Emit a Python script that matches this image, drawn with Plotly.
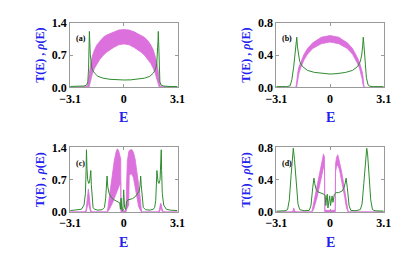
import plotly.graph_objects as go

W, H = 417, 259

# ---------------- data ----------------
# Panel (a)
aE_T = [-3.1, -2.1, -2.05, -2.0, -1.95, -1.9, -1.8, -1.7, -1.55, -1.4, -1.2, -1.0, -0.6, -0.3, 0.0,
        0.3, 0.6, 1.0, 1.2, 1.4, 1.55, 1.7, 1.8, 1.9, 1.95, 2.0, 2.05, 2.1, 3.1]
aT_up = [0, 0.02, 0.15, 0.3, 0.44, 0.55, 0.7, 0.81, 0.92, 1.0, 1.08, 1.13, 1.2, 1.24, 1.25,
         1.24, 1.2, 1.13, 1.08, 1.0, 0.92, 0.81, 0.7, 0.55, 0.44, 0.3, 0.15, 0.02, 0]
aT_lo = [0, 0, 0, 0.02, 0.1, 0.18, 0.32, 0.41, 0.52, 0.6, 0.69, 0.76, 0.86, 0.92, 0.94,
         0.92, 0.86, 0.76, 0.69, 0.6, 0.52, 0.41, 0.32, 0.18, 0.1, 0.02, 0, 0, 0]
aE_r = [-3.1, -2.6, -2.3, -2.15, -2.08, -2.04, -2.01, -1.99, -1.97, -1.94, -1.9, -1.85, -1.8, -1.7,
        -1.5, -1.2, -0.8, -0.4, 0.0, 0.4, 0.8, 1.2, 1.5, 1.7, 1.8, 1.85, 1.9, 1.94, 1.97, 1.99,
        2.01, 2.04, 2.08, 2.15, 2.3, 2.6, 3.1]
a_rho = [0.02, 0.02, 0.03, 0.05, 0.12, 0.4, 0.9, 1.21, 1.0, 0.72, 0.52, 0.42, 0.37, 0.31,
         0.24, 0.2, 0.175, 0.163, 0.16, 0.163, 0.175, 0.2, 0.24, 0.31, 0.37, 0.42, 0.52, 0.72, 1.0, 1.21,
         0.9, 0.4, 0.12, 0.05, 0.03, 0.02, 0.02]

# Panel (b)
bE_T = [-3.1, -1.97, -1.93, -1.9, -1.85, -1.8, -1.7, -1.6, -1.5, -1.3, -1.0, -0.5, 0.0,
        0.5, 1.0, 1.3, 1.5, 1.6, 1.7, 1.8, 1.85, 1.9, 1.93, 1.97, 3.1]
bT_up = [0, 0, 0.06, 0.14, 0.2, 0.25, 0.31, 0.36, 0.41, 0.48, 0.55, 0.62, 0.64,
         0.62, 0.55, 0.48, 0.41, 0.36, 0.31, 0.25, 0.2, 0.14, 0.06, 0, 0]
bT_lo = [0, 0, 0, 0.04, 0.11, 0.17, 0.24, 0.29, 0.34, 0.41, 0.48, 0.54, 0.56,
         0.54, 0.48, 0.41, 0.34, 0.29, 0.24, 0.17, 0.11, 0.04, 0, 0, 0]
bE_r = [-3.1, -2.5, -2.3, -2.2, -2.1, -2.0, -1.95, -1.92, -1.88, -1.83, -1.75, -1.6, -1.3, -0.9, -0.4,
        0.0, 0.4, 0.9, 1.3, 1.6, 1.75, 1.83, 1.88, 1.92, 1.96, 2.0, 2.1, 2.2, 2.3, 2.5, 3.1]
b_rho = [0.01, 0.01, 0.02, 0.1, 0.25, 0.45, 0.56, 0.62, 0.5, 0.4, 0.32, 0.26, 0.21, 0.185, 0.17,
         0.165, 0.17, 0.185, 0.21, 0.26, 0.32, 0.4, 0.5, 0.62, 0.52, 0.4, 0.12, 0.03, 0.015, 0.01, 0.01]

# Panel (c)
cE_T = [-3.1, -2.25, -2.18, -2.12, -2.08, -2.05, -2.02, -1.98, -1.92, -1.85,
        -0.95, -0.85, -0.75, -0.65, -0.55, -0.45, -0.38, -0.3, -0.22, -0.18, -0.17, -0.1, -0.05,
        0.05, 0.1, 0.13, 0.15, 0.2, 0.28, 0.31, 0.44, 0.55, 0.65, 0.75, 0.85, 0.95, 1.02,
        2.0, 2.05, 2.1, 2.13, 2.16, 2.2, 2.28, 3.1]
cT_up = [0, 0, 0.05, 0.3, 0.48, 0.5, 0.42, 0.2, 0.05, 0,
         0, 0.3, 0.6, 0.88, 1.12, 1.3, 1.37, 1.33, 1.22, 1.15, 0.12, 0.1, 0.02,
         0.02, 0.05, 0.08, 0.5, 1.1, 1.3, 1.33, 1.36, 1.3, 1.15, 0.9, 0.6, 0.28, 0,
         0, 0.05, 0.15, 0.19, 0.17, 0.08, 0, 0]
cT_lo = [0, 0, 0, 0.1, 0.2, 0.25, 0.15, 0.05, 0, 0,
         0, 0.05, 0.12, 0.2, 0.3, 0.4, 0.47, 0.55, 0.62, 0.65, 0, 0, 0,
         0, 0, 0, 0.05, 0.1, 0.15, 0.8, 0.83, 0.75, 0.55, 0.3, 0.12, 0.04, 0,
         0, 0, 0.05, 0.1, 0.08, 0.02, 0, 0]
cE_r = [-3.1, -2.7, -2.45, -2.3, -2.22, -2.18, -2.16, -2.13, -2.09, -2.03, -1.98, -1.94, -1.91, -1.88,
        -1.84, -1.78, -1.7, -1.5, -1.25, -1.12, -1.05, -1.0, -0.97, -0.93, -0.85, -0.75, -0.6, -0.45,
        -0.3, -0.24, -0.2, -0.16, -0.12, -0.06, -0.01, 0.04, 0.1, 0.16, 0.22, 0.35, 0.5, 0.65, 0.8,
        0.88, 0.93, 0.97, 1.0, 1.05, 1.12, 1.25, 1.5, 1.7, 1.78, 1.84, 1.88, 1.91, 1.94, 1.98, 2.03,
        2.09, 2.13, 2.16, 2.18, 2.22, 2.3, 2.45, 2.7, 3.1]
c_rho = [0.03, 0.04, 0.06, 0.15, 0.4, 0.9, 1.35, 0.95, 0.7, 0.62, 0.65, 0.78, 0.9, 0.6,
         0.25, 0.1, 0.06, 0.04, 0.05, 0.1, 0.3, 0.6, 0.78, 0.55, 0.4, 0.33, 0.27, 0.24,
         0.22, 0.2, 0.06, 0.3, 0.05, 0.03, 0.48, 0.1, 0.05, 0.22, 0.26, 0.27, 0.29, 0.33, 0.4,
         0.45, 0.55, 0.78, 0.6, 0.3, 0.1, 0.05, 0.04, 0.06, 0.1, 0.25, 0.6, 0.9, 0.78, 0.65, 0.62,
         0.7, 0.95, 1.35, 0.9, 0.4, 0.15, 0.06, 0.04, 0.03]

# Panel (d)
dE_T = [-3.1, -2.2, -2.13, -2.09, -2.05, -1.98, -1.05, -0.95, -0.85, -0.75, -0.65, -0.55, -0.45,
        -0.38, -0.32, -0.3, 0.3, 0.32, 0.38, 0.45, 0.55, 0.65, 0.75, 0.85, 0.95, 1.05, 3.1]
dT_up = [0, 0, 0.02, 0.05, 0.02, 0, 0, 0.1, 0.2, 0.3, 0.42, 0.53, 0.64,
         0.72, 0.68, 0.02, 0.02, 0.6, 0.68, 0.71, 0.63, 0.52, 0.4, 0.27, 0.12, 0, 0]
dT_lo = [0, 0, 0, 0.02, 0, 0, 0, 0.03, 0.1, 0.18, 0.28, 0.38, 0.48,
         0.55, 0.55, 0, 0, 0.5, 0.57, 0.58, 0.52, 0.42, 0.3, 0.18, 0.05, 0, 0]
dE_r = [-3.1, -2.6, -2.45, -2.35, -2.25, -2.17, -2.12, -2.05, -1.95, -1.85, -1.75, -1.5, -1.2, -1.1,
        -1.0, -0.93, -0.88, -0.8, -0.7, -0.5, -0.35, -0.28, -0.24, -0.2, -0.16, -0.12, -0.08, -0.02,
        0.03, 0.08, 0.12, 0.17, 0.25, 0.35, 0.5, 0.7, 0.8, 0.88, 0.93, 1.0, 1.1, 1.2, 1.5, 1.75,
        1.85, 1.95, 2.05, 2.12, 2.17, 2.25, 2.35, 2.45, 2.6, 3.1]
d_rho = [0.01, 0.015, 0.03, 0.15, 0.45, 0.72, 0.79, 0.65, 0.35, 0.1, 0.03, 0.015, 0.02, 0.08,
         0.3, 0.42, 0.35, 0.28, 0.25, 0.23, 0.22, 0.2, 0.08, 0.18, 0.22, 0.05, 0.15, 0.2,
         0.08, 0.15, 0.2, 0.12, 0.22, 0.24, 0.24, 0.26, 0.3, 0.36, 0.42, 0.3, 0.08, 0.02, 0.015, 0.03,
         0.1, 0.35, 0.65, 0.79, 0.72, 0.45, 0.15, 0.03, 0.015, 0.01]

x_ticks = [-3.1, 0, 3.1]
x_ticktext = ["\u22123.1", "0", "3.1"]
y_ticks_14 = [0, 0.7, 1.4]
y_ticktext_14 = ["0.0", "0.7", "1.4"]
y_ticks_08 = [0, 0.4, 0.8]
y_ticktext_08 = ["0.0", "0.4", "0.8"]
labels = ["(a)", "(b)", "(c)", "(d)"]

# ---------------- figure ----------------
PINK = "#DC70DC"
GREEN = "#2E8B2E"
BLUE = "#2222EE"
SERIF = "Liberation Serif"

panels = [
    (aE_T, aT_up, aT_lo, aE_r, a_rho, 1.4, y_ticks_14, y_ticktext_14),
    (bE_T, bT_up, bT_lo, bE_r, b_rho, 0.8, y_ticks_08, y_ticktext_08),
    (cE_T, cT_up, cT_lo, cE_r, c_rho, 1.4, y_ticks_14, y_ticktext_14),
    (dE_T, dT_up, dT_lo, dE_r, d_rho, 0.8, y_ticks_08, y_ticktext_08),
]

# pixel frames: (left, right, top, bottom)
frames = [(62, 174.5, 16.5, 85), (278, 390.5, 16.5, 85),
          (62, 174.5, 148.5, 216.7), (278, 390.5, 148.5, 216.7)]

fig = go.Figure()
layout = dict(width=W, height=H, margin=dict(l=0, r=0, t=0, b=0),
              paper_bgcolor="white", plot_bgcolor="white", showlegend=False)

annotations = []
for i, (ET, Tu, Tl, Er, rho, ymax, yt, ytt) in enumerate(panels):
    n = i + 1
    xa = "x" if n == 1 else f"x{n}"
    ya = "y" if n == 1 else f"y{n}"
    fig.add_trace(go.Scatter(x=ET, y=Tl, xaxis=xa, yaxis=ya, mode="lines",
                             line=dict(color=PINK, width=0.8), hoverinfo="skip"))
    fig.add_trace(go.Scatter(x=ET, y=Tu, xaxis=xa, yaxis=ya, mode="lines", fill="tonexty",
                             fillcolor=PINK, line=dict(color=PINK, width=0.8), hoverinfo="skip"))
    fig.add_trace(go.Scatter(x=Er, y=rho, xaxis=xa, yaxis=ya, mode="lines",
                             line=dict(color=GREEN, width=1.0), hoverinfo="skip"))
    l, r, t, b = frames[i]
    axcommon = dict(showline=True, linecolor="#9a9a9a", linewidth=1, mirror="ticks",
                    ticks="inside", ticklen=3, tickcolor="#9a9a9a", showgrid=False, zeroline=False,
                    tickfont=dict(family=SERIF, size=12, color="black", weight="bold"))
    layout["xaxis" if n == 1 else f"xaxis{n}"] = dict(
        domain=[l / W, r / W], anchor=ya, range=[-3.1, 3.1],
        tickvals=x_ticks, ticktext=x_ticktext, **axcommon)
    layout["yaxis" if n == 1 else f"yaxis{n}"] = dict(
        domain=[1 - b / H, 1 - t / H], anchor=xa, range=[0, ymax],
        tickvals=yt, ticktext=ytt, **axcommon)
    cx = (l + r) / 2
    # x axis title
    annotations.append(dict(text="<b>E</b>", xref="paper", yref="paper", x=cx / W, y=1 - (b + 32) / H,
                            showarrow=False, font=dict(family=SERIF, size=14, color=BLUE),
                            xanchor="center", yanchor="middle"))
    # y axis title
    annotations.append(dict(text="<b>T(E) , <i>\u03c1</i>(E)</b>", xref="paper", yref="paper",
                            x=(l - 32) / W, y=1 - ((t + b) / 2) / H, textangle=-90,
                            showarrow=False, font=dict(family=SERIF, size=12, color=BLUE),
                            xanchor="center", yanchor="middle"))
    # panel label
    annotations.append(dict(text=f"<b>{labels[i]}</b>", xref="paper", yref="paper",
                            x=(l + 11) / W, y=1 - (t + 17) / H, showarrow=False,
                            font=dict(family=SERIF, size=8, color="black"),
                            xanchor="center", yanchor="middle"))

layout["annotations"] = annotations
fig.update_layout(**layout)
fig.write_html("out.html", config={"displayModeBar": False},
               post_script="document.body.style.margin='0';document.body.style.padding='0';"
                           "document.body.style.overflow='hidden';")
